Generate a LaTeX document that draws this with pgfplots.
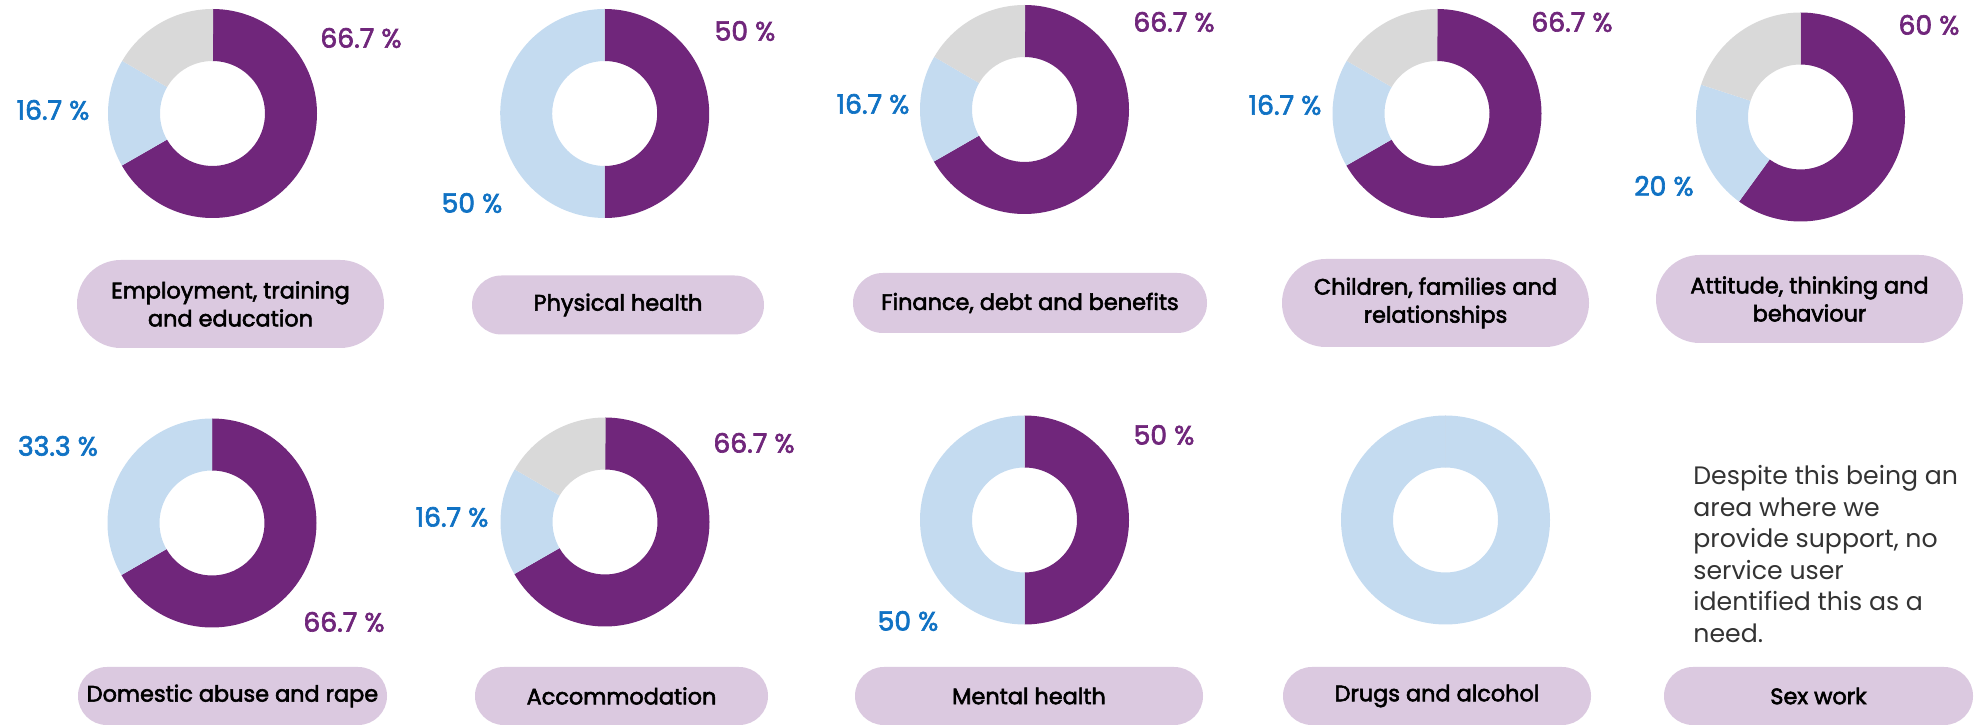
\documentclass[border=0pt]{standalone}
\usepackage{pgfplots}
\pgfplotsset{compat=1.18}
\usepackage{fontspec}
\setmainfont{Poppins}
\newfontfamily\pmed{Poppins}[FakeBold=2.5]
\definecolor{cpurple}{HTML}{70267B}
\definecolor{cblue}{HTML}{C4DBF0}
\definecolor{cgray}{HTML}{D9D9D9}
\definecolor{cpill}{HTML}{DBC9E0}
\definecolor{ctblue}{HTML}{1072C4}
% one ring segment: cx, cy (px), start angle, end angle, colour
\newcommand\seg[5]{\fill[#5] (axis cs:{#1+104.5*cos(#3)},{#2-104.5*sin(#3)}) arc[start angle={#3}, end angle={#4}, radius=52.25pt] -- (axis cs:{#1+52.5*cos(#4)},{#2-52.5*sin(#4)}) arc[start angle={#4}, end angle={#3}, radius=26.25pt] -- cycle;}
% donut: cx, cy, purple %, blue %, grey %
\newcommand\donut[5]{%
  \seg{#1}{#2}{90}{90-3.6*#3}{cpurple}
  \seg{#1}{#2}{90-3.6*#3}{90-3.6*(#3+#4)}{cblue}
  \seg{#1}{#2}{90-3.6*(#3+#4)}{90-3.6*(#3+#4+#5)}{cgray}}
% pill: cx, cy, w, h, corner radius, text
\newcommand\pill[6]{%
  \fill[cpill, rounded corners=#5] (axis cs:{#1-#3/2},{#2-#4/2}) rectangle (axis cs:{#1+#3/2},{#2+#4/2});
  \node[align=center, inner sep=0pt, font=\pmed\fontsize{11.2}{14}\selectfont] at (axis cs:#1,#2) {#6};}
\newcommand\pp[3]{\node[inner sep=0pt, text=cpurple, font=\pmed\fontsize{13.3}{15}\selectfont] at (axis cs:#1,#2) {#3 \%};}
\newcommand\pb[3]{\node[inner sep=0pt, text=ctblue, font=\pmed\fontsize{13.3}{15}\selectfont] at (axis cs:#1,#2) {#3 \%};}
\begin{document}
\begin{tikzpicture}
\begin{axis}[at={(0,0)}, anchor=south west, width=991pt, height=363pt, scale only axis,
  xmin=0, xmax=1982, ymin=0, ymax=726, y dir=reverse, hide axis, clip=false]
\path (axis cs:0,0) rectangle (axis cs:1982,726);
% donuts: purple, light blue, grey shares (%)
\donut{212.5}{113.5}{66.7}{16.7}{16.7}
\donut{604.7}{113.5}{50}{50}{0}
\donut{1024.5}{109.5}{66.7}{16.7}{16.7}
\donut{1437}{113.5}{66.7}{16.7}{16.7}
\donut{1800.5}{117}{60}{20}{20}
\donut{212}{523}{66.7}{33.3}{0}
\donut{605}{522}{66.7}{16.7}{16.7}
\donut{1024.5}{520}{50}{50}{0}
\donut{1445.5}{520}{0}{100}{0}
% labels
\pp{361}{38}{66.7}  \pb{53}{110}{16.7}
\pp{745}{31}{50}    \pb{472}{203}{50}
\pp{1174}{22}{66.7} \pb{873}{104}{16.7}
\pp{1572}{22}{66.7} \pb{1285}{105}{16.7}
\pp{1929}{25}{60}   \pb{1664}{186}{20}
\pb{58}{446}{33.3}  \pp{344}{622}{66.7}
\pp{754}{443}{66.7} \pb{452}{517}{16.7}
\pp{1164}{435}{50}  \pb{908}{621}{50}
% category pills
\pill{230.5}{304}{307}{88}{21.9pt}{Employment, training\\and education}
\pill{618}{305}{292}{59}{14.7pt}{Physical health}
\pill{1030}{303}{354}{60}{14.9pt}{Finance, debt and benefits}
\pill{1435.5}{303}{307}{88}{21.9pt}{Children, families and\\relationships}
\pill{1809.5}{299}{307}{88}{21.9pt}{Attitude, thinking and\\behaviour}
\pill{232.5}{696}{309}{58}{14.4pt}{Domestic abuse and rape}
\pill{621.5}{696}{293}{58}{14.4pt}{Accommodation}
\pill{1029}{696}{348}{58}{14.4pt}{Mental health}
\pill{1437}{696}{308}{58}{14.4pt}{Drugs and alcohol}
\pill{1818.5}{696}{309}{58}{14.4pt}{Sex work}
\node[anchor=north west, inner sep=0pt, align=left, text=black!80, font=\fontsize{12.6}{15.75}\selectfont] at (axis cs:1693,465) {Despite this being an\\area where we\\provide support, no\\service user\\identified this as a\\need.};
\end{axis}
\end{tikzpicture}
\end{document}
